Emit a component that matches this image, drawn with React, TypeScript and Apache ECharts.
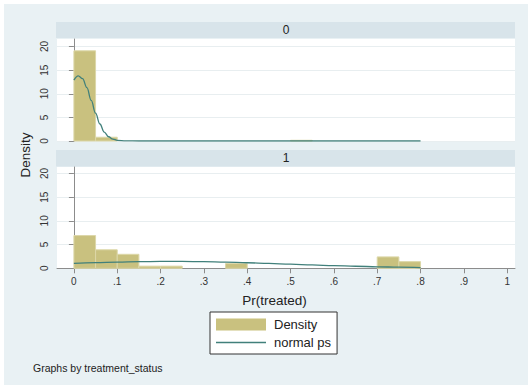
import React, { useEffect, useRef } from 'react';
import * as echarts from 'echarts';

// ---- data ----
const binStarts = [0, 0.05, 0.1, 0.15, 0.2, 0.25, 0.3, 0.35, 0.4, 0.45, 0.5, 0.55, 0.6, 0.65, 0.7, 0.75];
const binWidth = 0.05;
const densityGroup0 = [19.1, 0.8, 0, 0, 0, 0, 0, 0, 0, 0, 0.15, 0, 0, 0, 0, 0];
const densityGroup1 = [6.9, 3.9, 2.95, 0.45, 0.45, 0, 0, 1.0, 0, 0, 0, 0, 0, 0, 2.4, 1.4];

const curveX0 = [0, 0.01, 0.02, 0.03, 0.04, 0.05, 0.06, 0.07, 0.08, 0.09, 0.1, 0.12, 0.15, 0.2, 0.3, 0.4, 0.5, 0.6, 0.7, 0.8];
const curveY0 = [12.9, 13.8, 13.2, 11.3, 8.6, 5.9, 3.6, 1.9, 0.9, 0.4, 0.15, 0.02, 0, 0, 0, 0, 0, 0, 0, 0];
const curveX1 = [0, 0.05, 0.1, 0.15, 0.2, 0.25, 0.3, 0.35, 0.4, 0.45, 0.5, 0.55, 0.6, 0.65, 0.7, 0.75, 0.8];
const curveY1 = [1.05, 1.2, 1.32, 1.4, 1.45, 1.44, 1.39, 1.3, 1.17, 1.02, 0.86, 0.71, 0.56, 0.43, 0.32, 0.23, 0.16];

const xTicks = [0, 0.1, 0.2, 0.3, 0.4, 0.5, 0.6, 0.7, 0.8, 0.9, 1];
const yTicks = [0, 5, 10, 15, 20];
const panelLabels = ['0', '1'];
const seriesNames = ['Density', 'normal ps'];

const FONT = 'Liberation Sans, Arial, sans-serif';
const BAR_FILL = '#c9c17f';
const BAR_STROKE = '#dcd7a8';
const LINE_COLOR = '#41807b';
const AXIS_COLOR = '#8c8c8c';
const GRID_COLOR = '#e8eef0';

export default function App() {
  const ref = useRef<HTMLDivElement>(null);
  useEffect(() => {
    document.body.style.margin = '0';
    const chart = echarts.init(ref.current!, null, { renderer: 'svg' });

    const grids = [
      { left: 57, top: 39, width: 458, height: 102 },
      { left: 57, top: 167, width: 458, height: 101.3 },
    ];
    const yMax = [21.6, 21.35];

    const xAxes = [0, 1].map((g) => ({
      gridIndex: g,
      type: 'value',
      min: -0.039,
      max: 1.018,
      show: g === 1,
      axisLine: { show: true, onZero: false, lineStyle: { color: AXIS_COLOR, width: 1 } },
      axisTick: { show: true, length: 5, customValues: xTicks, lineStyle: { color: AXIS_COLOR } },
      axisLabel: {
        customValues: xTicks,
        margin: 8,
        fontSize: 10,
        fontFamily: FONT,
        color: '#333',
        formatter: (v: number) => (v === 0 ? '0' : v === 1 ? '1' : '.' + Math.round(v * 10)),
      },
      splitLine: { show: false },
    }));

    const yAxes = [0, 1].map((g) => ({
      gridIndex: g,
      type: 'value',
      min: 0,
      max: yMax[g],
      axisLine: { show: true, lineStyle: { color: AXIS_COLOR, width: 1 } },
      axisTick: { show: true, length: 5, customValues: yTicks, lineStyle: { color: AXIS_COLOR } },
      axisLabel: {
        customValues: yTicks,
        rotate: 90,
        margin: 8,
        fontSize: 10,
        fontFamily: FONT,
        color: '#333',
      },
      splitLine: {
        show: true,
        lineStyle: { color: [GRID_COLOR, GRID_COLOR, GRID_COLOR, GRID_COLOR, GRID_COLOR, 'rgba(0,0,0,0)'], width: 1 },
      },
    }));

    const densities = [densityGroup0, densityGroup1];
    const curves = [
      curveX0.map((x, i) => [x, curveY0[i]]),
      curveX1.map((x, i) => [x, curveY1[i]]),
    ];

    const series: any[] = [];
    [0, 1].forEach((g) => {
      series.push({
        type: 'custom',
        name: seriesNames[0],
        xAxisIndex: g,
        yAxisIndex: g,
        encode: { x: [0, 1], y: 2 },
        itemStyle: { color: BAR_FILL, borderColor: BAR_STROKE },
        data: binStarts.map((s, i) => [s, s + binWidth, densities[g][i]]),
        renderItem: (params: any, api: any) => {
          const x0 = api.value(0);
          const x1 = api.value(1);
          const h = api.value(2);
          if (!h) return null;
          const p0 = api.coord([x0, h]);
          const p1 = api.coord([x1, 0]);
          return {
            type: 'rect',
            shape: { x: p0[0], y: p0[1], width: p1[0] - p0[0], height: p1[1] - p0[1] },
            style: { fill: BAR_FILL, stroke: BAR_STROKE, lineWidth: 1 },
          };
        },
      });
    });
    [0, 1].forEach((g) => {
      series.push({
        type: 'line',
        name: seriesNames[1],
        xAxisIndex: g,
        yAxisIndex: g,
        symbol: 'none',
        showSymbol: false,
        smooth: 0.4,
        smoothMonotone: 'x',
        itemStyle: { color: LINE_COLOR },
        lineStyle: { color: LINE_COLOR, width: 1.3 },
        data: curves[g],
        z: 3,
      });
    });

    const option: any = {
      animation: false,
      backgroundColor: '#ffffff',
      grid: grids.map((g) => ({ ...g, containLabel: false, show: false })),
      xAxis: xAxes,
      yAxis: yAxes,
      legend: {
        left: 210,
        top: 312,
        orient: 'vertical',
        padding: [6, 6, 5, 6],
        itemGap: 5,
        itemWidth: 50,
        itemHeight: 12,
        backgroundColor: '#ffffff',
        borderColor: '#333333',
        borderWidth: 1,
        borderRadius: 0,
        selectedMode: false,
        textStyle: { fontSize: 13, color: '#222', fontFamily: FONT, padding: [0, 0, 0, 3] },
        data: [
          { name: seriesNames[0], icon: 'rect' },
          { name: seriesNames[1], icon: 'path://M0 0H50V1.4H0Z' },
        ],
      },
      graphic: [
        { type: 'rect', z: -10, shape: { x: 4, y: 4, width: 524, height: 381 }, style: { fill: '#e9f1f4' } },
        { type: 'rect', z: -10, shape: { x: 56, y: 22, width: 459, height: 16 }, style: { fill: '#d8e4ea' } },
        { type: 'rect', z: -10, shape: { x: 56, y: 150, width: 459, height: 16.5 }, style: { fill: '#d8e4ea' } },
        { type: 'rect', z: -10, shape: { x: 57, y: 39, width: 458, height: 102 }, style: { fill: '#ffffff' } },
        { type: 'rect', z: -10, shape: { x: 57, y: 167, width: 458, height: 101.3 }, style: { fill: '#ffffff' } },
        {
          type: 'text', x: 286, y: 30,
          style: { text: panelLabels[0], fontSize: 12, fontFamily: FONT, fill: '#222', align: 'center', verticalAlign: 'middle' },
        },
        {
          type: 'text', x: 286, y: 158,
          style: { text: panelLabels[1], fontSize: 12, fontFamily: FONT, fill: '#222', align: 'center', verticalAlign: 'middle' },
        },
        {
          type: 'text', x: 25, y: 155, rotation: Math.PI / 2,
          style: { text: 'Density', fontSize: 13.5, fontFamily: FONT, fill: '#222', align: 'center', verticalAlign: 'middle' },
        },
        {
          type: 'text', x: 274.5, y: 300,
          style: { text: 'Pr(treated)', fontSize: 13.5, fontFamily: FONT, fill: '#222', align: 'center', verticalAlign: 'middle' },
        },
        {
          type: 'text', x: 33, y: 368,
          style: { text: 'Graphs by treatment_status', fontSize: 10.5, fontFamily: FONT, fill: '#222', align: 'left', verticalAlign: 'middle' },
        },
      ],
      series,
    };

    chart.setOption(option);
    return () => chart.dispose();
  }, []);
  return <div ref={ref} style={{ width: 532, height: 389 }} />;
}
